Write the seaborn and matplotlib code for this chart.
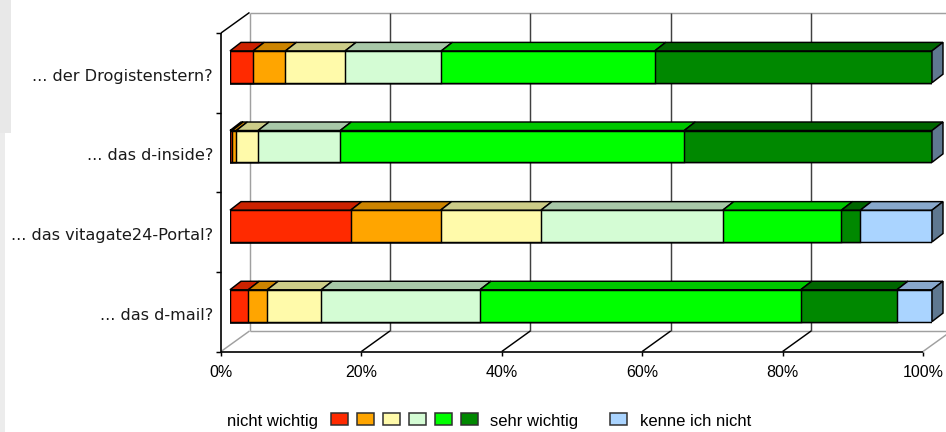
import matplotlib
matplotlib.use("Agg")
import matplotlib.pyplot as plt
import matplotlib.transforms as mtransforms
from matplotlib.lines import Line2D
from matplotlib.patches import Polygon, Rectangle
import numpy as np
import pandas as pd
import seaborn as sns

# --- Daten (Anteile in %) ---
categories = ["... der Drogistenstern?", "... das d-inside?",
              "... das vitagate24-Portal?", "... das d-mail?"]
stufe_1 = [3.3, 0.3, 17.2, 2.6]        # nicht wichtig
stufe_2 = [4.6, 0.6, 12.8, 2.7]
stufe_3 = [8.5, 3.1, 14.3, 7.7]
stufe_4 = [13.7, 11.7, 25.9, 22.6]
stufe_5 = [30.4, 49.0, 16.9, 45.7]
stufe_6 = [39.5, 35.3, 2.7, 13.7]      # sehr wichtig
kenne_nicht = [0.0, 0.0, 10.2, 5.0]

x_ticks = [0, 20, 40, 60, 80, 100]
tick_labels = ["0%", "20%", "40%", "60%", "80%", "100%"]
legend_left = "nicht wichtig"
legend_right = "sehr wichtig"
legend_extra = "kenne ich nicht"

front_colors = ["#ff2a00", "#ffa500", "#fffaaa", "#d4fcd4", "#00ff00", "#008800", "#aad4ff"]
top_colors = ["#cc2200", "#cc8400", "#cccc88", "#a8c8a8", "#00c800", "#006600", "#88a8cc"]
side_color = "#5f7890"

# Pseudo-3D Versatz in Pixeln (x nach rechts, y nach oben)
FRONT = (-9, -6)
BACK = (19.5, 14.5)
BAR_DEPTH = (11, 8.5)
BAR_W = 0.4

W, H = 946, 432
fig = plt.figure(figsize=(W / 100, H / 100), dpi=100)
fig.patch.set_facecolor("white")
ax = fig.add_axes([230 / W, 1 - 345.5 / H, 702 / W, 318.5 / H])

df = pd.DataFrame({"frage": categories, "s1": stufe_1, "s2": stufe_2, "s3": stufe_3,
                   "s4": stufe_4, "s5": stufe_5, "s6": stufe_6, "kn": kenne_nicht})
cols = ["s1", "s2", "s3", "s4", "s5", "s6", "kn"]
cum = df[cols].cumsum(axis=1)

# gestapelte Balken: laengste zuerst, kuerzere darueber
for k in range(len(cols) - 1, -1, -1):
    sns.barplot(x=cum[cols[k]], y=df["frage"], orient="h", color=front_colors[k],
                saturation=1, width=BAR_W, edgecolor="black", linewidth=1.05,
                ax=ax, zorder=2)

ax.set_xlim(0, 100)
ax.set_ylim(3.5, -0.5)
ax.axis("off")

ident = mtransforms.IdentityTransform()


def px(x, y, off=(0, 0)):
    p = ax.transData.transform((x, y))
    return (p[0] + off[0], p[1] + off[1])


def line(p1, p2, color="black", lw=1.05, z=0.5):
    ax.add_line(Line2D([p1[0], p2[0]], [p1[1], p2[1]], color=color, lw=lw,
                       transform=ident, clip_on=False, zorder=z, solid_capstyle="butt"))


grey = "#a0a0a0"
# Rueckwand
line(px(0, 3.5, BACK), px(0, -0.5, BACK), grey)
line(px(0, -0.5, BACK), px(100, -0.5, BACK), grey)
line(px(0, 3.5, BACK), px(100, 3.5, BACK), grey)
for t in x_ticks[1:-1]:
    line(px(t, 3.5, BACK), px(t, -0.5, BACK), "#404040")
# Boden-Diagonalen
for t in x_ticks:
    c = grey if t in (0, 100) else "black"
    line(px(t, 3.5, FRONT), px(t, 3.5, BACK), c)
# vordere Achsen
line(px(0, 3.5, FRONT), px(100, 3.5, FRONT), lw=1.2, z=3)
line(px(0, 3.5, FRONT), px(0, -0.5, FRONT), lw=1.2, z=3)
line(px(0, -0.5, FRONT), px(0, -0.5, BACK), z=3)
for t, lab in zip(x_ticks, tick_labels):
    p = px(t, 3.5, FRONT)
    line(p, (p[0], p[1] - 4), z=3)
    ax.text(p[0], p[1] - 25.5, lab, transform=ident, ha="center", va="baseline",
            fontsize=11.5, family="Liberation Sans", color="black")
for b in np.arange(-0.5, 4, 1.0):
    p = px(0, b, FRONT)
    line(p, (p[0] - 5, p[1]), z=3)
for i, cat in enumerate(categories):
    p = px(0, i, FRONT)
    ax.text(p[0] - 8, p[1] - 8, cat, transform=ident, ha="right", va="baseline",
            fontsize=11.6, family="DejaVu Sans", color="#1a1a1a")

# Oberseiten und rechte Seitenflaechen der Balken
for i in range(len(categories)):
    top = i - BAR_W / 2
    bot = i + BAR_W / 2
    start = 0.0
    for k, c in enumerate(cols):
        w = df.loc[i, c]
        if w <= 0:
            continue
        a, b = px(start, top), px(start + w, top)
        pts = [a, b, (b[0] + BAR_DEPTH[0], b[1] + BAR_DEPTH[1]),
               (a[0] + BAR_DEPTH[0], a[1] + BAR_DEPTH[1])]
        ax.add_patch(Polygon(pts, closed=True, facecolor=top_colors[k], edgecolor="black",
                             lw=1.05, transform=ident, clip_on=False, zorder=2.5))
        start += w
    a, b = px(start, top), px(start, bot)
    pts = [a, (a[0] + BAR_DEPTH[0], a[1] + BAR_DEPTH[1]),
           (b[0] + BAR_DEPTH[0], b[1] + BAR_DEPTH[1]), b]
    ax.add_patch(Polygon(pts, closed=True, facecolor=side_color, edgecolor="black",
                         lw=1.05, transform=ident, clip_on=False, zorder=2.5))

# linker grauer Rand (Screenshot)
fig.add_artist(Rectangle((0, H - 133), 11, 133, transform=ident, facecolor="#e8e8e8",
                         edgecolor="none", zorder=-1))
fig.add_artist(Rectangle((0, 0), 5, H - 133, transform=ident, facecolor="#ececec",
                         edgecolor="none", zorder=-1))

# Legende
base_y = H - 426
sq_y0, sq_h, sq_w = H - 424.5, 12, 17
fig.text(227, base_y, legend_left, transform=ident, ha="left", va="baseline",
         fontsize=12, family="Liberation Sans")
for k in range(6):
    fig.add_artist(Rectangle((331 + 26 * k, sq_y0), sq_w, sq_h, transform=ident,
                             facecolor=front_colors[k], edgecolor="#303030", lw=1.1))
fig.text(489.5, base_y, legend_right, transform=ident, ha="left", va="baseline",
         fontsize=12, family="Liberation Sans")
fig.add_artist(Rectangle((610, sq_y0), sq_w, sq_h, transform=ident,
                         facecolor=front_colors[6], edgecolor="#303030", lw=1.1))
fig.text(640, base_y, legend_extra, transform=ident, ha="left", va="baseline",
         fontsize=12, family="Liberation Sans")

fig.savefig("out.png", dpi=100)
